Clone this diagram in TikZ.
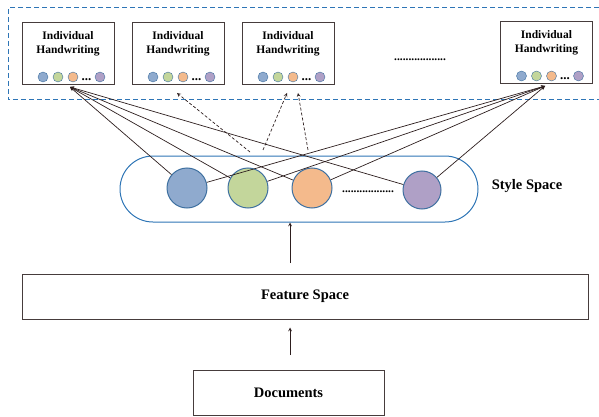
\documentclass[tikz,border=0pt]{standalone}
\usepackage{fontspec}
\setmainfont{Liberation Serif}
\usetikzlibrary{arrows}

\definecolor{cblue}{RGB}{143,170,206}
\definecolor{cgreen}{RGB}{195,214,155}
\definecolor{corange}{RGB}{244,186,140}
\definecolor{cpurple}{RGB}{175,160,198}
\definecolor{rimblue}{RGB}{62,112,160}
\definecolor{pillblue}{RGB}{46,117,182}
\definecolor{linkcol}{RGB}{45,30,30}
\definecolor{boxcol}{RGB}{70,60,60}

\tikzset{
    hwbox/.style={draw=boxcol, line width=1pt, minimum width=92pt, minimum height=62pt, inner sep=0pt},
    hwtext/.style={font=\fontsize{11.5}{14}\selectfont\bfseries, align=center, inner sep=0pt},
    dotc/.style={circle, draw=rimblue, line width=0.4pt, minimum size=10pt, inner sep=0pt},
    bigc/.style={circle, draw=rimblue, line width=1pt, minimum size=40pt, inner sep=0pt},
    flatbox/.style={draw=boxcol, line width=1pt, inner sep=0pt, font=\fontsize{14.5}{16}\selectfont\bfseries},
    lbl/.style={font=\fontsize{14.5}{16}\selectfont\bfseries, inner sep=0pt},
    link/.style={->, >=stealth, draw=linkcol, line width=0.7pt},
    dlink/.style={->, >=stealth, draw=linkcol, line width=0.7pt, dash pattern=on 3pt off 2pt},
    regline/.style={draw=pillblue, line width=1pt, dash pattern=on 5pt off 3pt}
}

\begin{document}
\begin{tikzpicture}[x=1pt,y=-1pt]
    \useasboundingbox (0,0) rectangle (599,417);

    %% handwriting region
    \draw[regline] (599,8) -- (8,8) -- (8,100) -- (599,100);

    % handwriting boxes
    \foreach \i/\x/\y in {1/68/54, 2/178/54, 3/288/54, 4/546.5/53} {
        \node[hwbox] (hw\i) at (\x,\y) {};
        \node[hwtext] (hwt\i) at ({\x},{\y-10}) {Individual\\Handwriting};
        \node[dotc, fill=cblue] (hw\i-a) at ({\x-25},{\y+23}) {};
        \node[dotc, fill=cgreen] (hw\i-b) at ({\x-10},{\y+23}) {};
        \node[dotc, fill=corange] (hw\i-c) at ({\x+5},{\y+23}) {};
        \node[hwtext, font=\fontsize{13}{14}\selectfont\bfseries, anchor=base] (hw\i-d) at ({\x+18.5},{\y+27}) {...};
        \node[dotc, fill=cpurple] (hw\i-e) at ({\x+32},{\y+23}) {};
    }
    \node[hwtext] (hwdots) at (420,60) {..................};

    %% style space
    \node[draw=pillblue, line width=1pt, rounded corners=33pt,
          minimum width=358pt, minimum height=66pt] (style) at (299,189) {};
    \node[bigc, fill=cblue] (s1) at (187,188) {};
    \node[bigc, fill=cgreen] (s2) at (248,188) {};
    \node[bigc, fill=corange] (s3) at (312,188) {};
    \node[bigc, fill=cpurple, minimum size=38pt] (s4) at (422,190) {};
    \node[hwtext] (sdots) at (368,192) {..................};
    \node[lbl] (stylelbl) at (527,186) {Style Space};

    % links to the handwritings
    \coordinate (in1) at (70,87);
    \coordinate (in4) at (545,86);
    \foreach \c in {1,...,4} {
        \draw[link] (s\c) -- (in1);
        \draw[link] (s\c) -- (in4);
    }

    % dashed links
    \coordinate (d1) at (250,152);
    \coordinate (d2) at (263,150);
    \coordinate (d3) at (308,150);
    \coordinate (t1) at (177,93);
    \coordinate (t2) at (287,93);
    \coordinate (t3) at (298,93);
    \foreach \k in {1,2,3}
        \draw[dlink] (d\k) -- (t\k);

    %% feature space and documents
    \node[flatbox, minimum width=566pt, minimum height=45pt] (feat) at (305,296.5) {Feature Space};
    \node[flatbox, minimum width=191pt, minimum height=45pt] (docs) at (288.5,392.5) {Documents};

    \coordinate (fa) at (290,263);
    \coordinate (da) at (290,355);
    \draw[link] (fa) -- (fa |- style.south);
    \draw[link, shorten >=8pt] (da) -- (da |- feat.south);
\end{tikzpicture}
\end{document}
